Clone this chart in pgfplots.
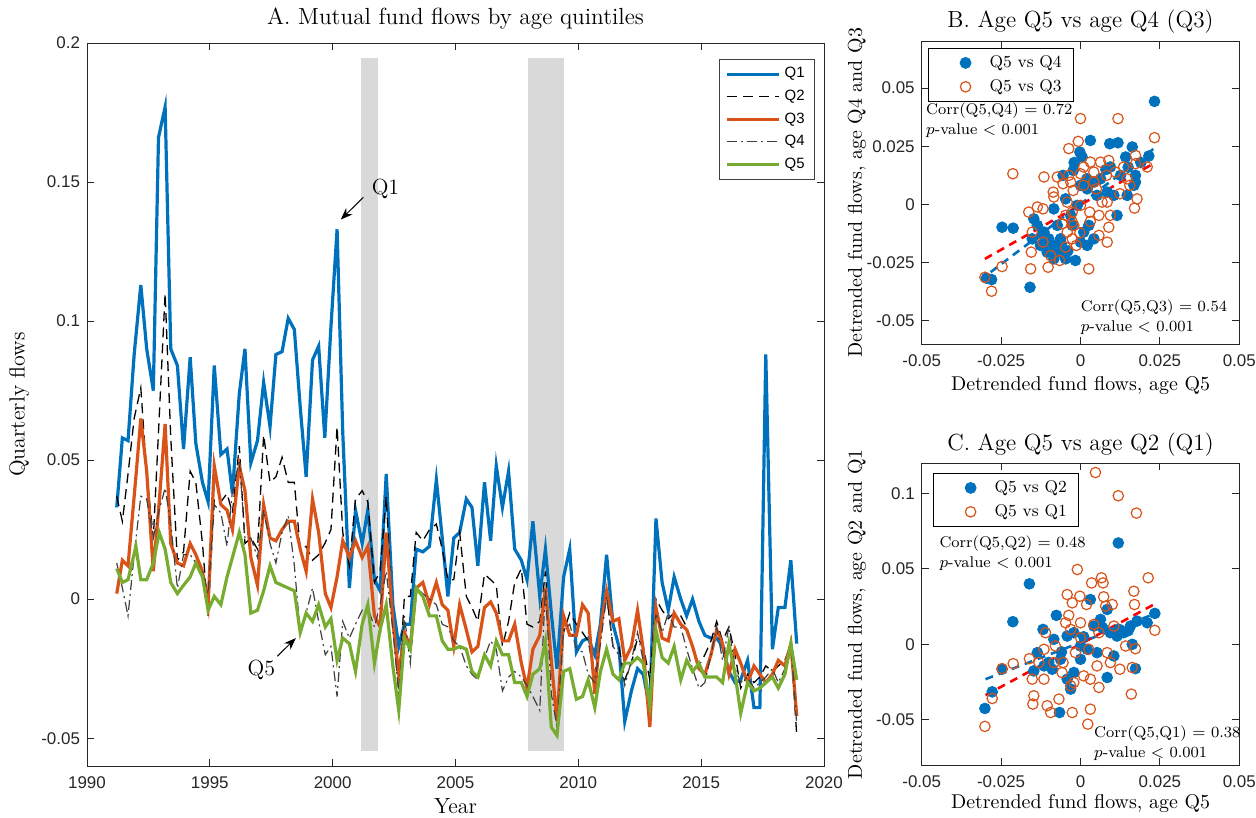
\documentclass[border=0pt]{standalone}
\usepackage{fontspec}
\usepackage{pgfplots}
\usepackage{pgfplotstable}
\pgfplotsset{compat=1.18}
\usetikzlibrary{arrows.meta}
\newfontfamily\tickfont{Liberation Sans}

\definecolor{mblue}{HTML}{0072BD}
\definecolor{morange}{HTML}{D95319}
\definecolor{mgreen}{HTML}{77AC30}
\definecolor{bandgray}{HTML}{D9D9D9}
\definecolor{axgray}{HTML}{262626}

% quarterly flows
\pgfplotstableread{
t v
1991.21 0.033
1991.44 0.058
1991.67 0.057
1991.92 0.088
1992.19 0.113
1992.43 0.090
1992.70 0.075
1992.91 0.166
1993.18 0.177
1993.41 0.090
1993.68 0.084
1993.93 0.054
1994.20 0.087
1994.43 0.056
1994.70 0.042
1994.93 0.035
1995.18 0.084
1995.45 0.052
1995.70 0.054
1995.92 0.038
1996.20 0.074
1996.43 0.090
1996.67 0.049
1996.94 0.057
1997.19 0.078
1997.45 0.062
1997.69 0.088
1997.94 0.089
1998.19 0.101
1998.44 0.097
1998.68 0.069
1998.92 0.044
1999.18 0.086
1999.43 0.091
1999.68 0.058
1999.93 0.098
2000.18 0.133
2000.41 0.060
2000.68 0.004
2000.93 0.032
2001.20 0.020
2001.43 0.032
2001.70 0.007
2001.93 0.003
2002.18 0.045
2002.45 -0.002
2002.69 -0.017
2002.92 -0.009
2003.16 -0.009
2003.40 0.018
2003.67 0.017
2003.94 0.019
2004.22 0.043
2004.46 0.022
2004.69 0.001
2004.93 0.022
2005.17 0.024
2005.44 0.036
2005.67 0.033
2005.91 0.012
2006.18 0.042
2006.43 0.021
2006.66 0.048
2006.91 0.033
2007.16 0.046
2007.41 0.018
2007.68 0.014
2007.91 0.007
2008.15 0.028
2008.43 0.001
2008.66 0.018
2008.90 -0.005
2009.13 -0.025
2009.40 0.008
2009.65 0.018
2009.92 -0.019
2010.17 -0.015
2010.40 -0.014
2010.67 -0.020
2010.90 -0.009
2011.15 0.016
2011.41 -0.009
2011.65 -0.017
2011.89 -0.044
2012.16 -0.033
2012.41 -0.025
2012.64 -0.027
2012.91 -0.039
2013.16 0.029
2013.41 0.006
2013.66 -0.004
2013.90 0.008
2014.17 0.000
2014.41 -0.006
2014.65 0.000
2014.91 -0.008
2015.15 -0.013
2015.40 -0.014
2015.63 -0.014
2015.87 -0.017
2016.13 -0.026
2016.38 -0.030
2016.61 -0.029
2016.89 -0.022
2017.15 -0.039
2017.39 -0.039
2017.63 0.088
2017.90 -0.018
2018.14 -0.003
2018.41 -0.003
2018.65 0.014
2018.89 -0.016
}\qone

\pgfplotstableread{
t v
1991.21 0.037
1991.44 0.028
1991.67 0.045
1991.92 0.065
1992.19 0.076
1992.43 0.045
1992.70 0.022
1992.91 0.060
1993.18 0.110
1993.41 0.058
1993.68 0.014
1993.93 0.017
1994.20 0.046
1994.43 0.042
1994.70 0.020
1994.93 -0.006
1995.18 0.036
1995.45 0.035
1995.70 0.038
1995.92 0.031
1996.20 0.055
1996.43 0.020
1996.67 0.022
1996.94 0.018
1997.19 0.059
1997.45 0.042
1997.69 0.044
1997.94 0.051
1998.19 0.042
1998.44 0.042
1998.68 0.018
1998.92 0.019
1999.18 0.014
1999.43 0.016
1999.68 0.020
1999.93 0.025
2000.18 0.062
2000.41 0.024
2000.68 0.012
2000.93 0.036
2001.20 0.039
2001.43 0.035
2001.70 0.006
2001.93 0.010
2002.18 0.037
2002.45 -0.009
2002.69 -0.033
2002.92 0.001
2003.16 0.001
2003.40 0.024
2003.67 0.021
2003.94 0.025
2004.22 0.027
2004.46 0.018
2004.69 0.007
2004.93 0.007
2005.17 0.024
2005.44 0.001
2005.67 -0.003
2005.91 -0.008
2006.18 0.009
2006.43 0.007
2006.66 0.005
2006.91 -0.017
2007.16 -0.008
2007.41 0.006
2007.68 0.011
2007.91 -0.009
2008.15 -0.010
2008.43 -0.008
2008.66 0.010
2008.90 -0.023
2009.13 -0.047
2009.40 -0.012
2009.65 -0.005
2009.92 -0.009
2010.17 -0.012
2010.40 -0.015
2010.67 -0.028
2010.90 -0.010
2011.15 0.002
2011.41 -0.017
2011.65 -0.017
2011.89 -0.029
2012.16 -0.023
2012.41 -0.014
2012.64 -0.017
2012.91 -0.029
2013.16 0.000
2013.41 -0.004
2013.66 -0.007
2013.90 -0.005
2014.17 -0.006
2014.41 -0.010
2014.65 -0.017
2014.91 -0.024
2015.15 -0.020
2015.40 -0.015
2015.63 -0.008
2015.87 -0.015
2016.13 -0.010
2016.38 -0.020
2016.61 -0.032
2016.89 -0.027
2017.15 -0.030
2017.39 -0.028
2017.63 -0.024
2017.90 -0.026
2018.14 -0.024
2018.41 -0.022
2018.65 -0.016
2018.89 -0.049
}\qtwo

\pgfplotstableread{
t v
1991.21 0.002
1991.44 0.014
1991.67 0.012
1991.99 0.044
1992.19 0.065
1992.43 0.046
1992.70 0.010
1992.94 0.035
1993.18 0.063
1993.41 0.020
1993.68 0.013
1993.93 0.012
1994.20 0.020
1994.43 0.016
1994.70 0.010
1994.93 -0.002
1995.18 0.048
1995.45 0.034
1995.70 0.032
1995.92 0.025
1996.20 0.048
1996.43 0.039
1996.67 0.015
1996.94 0.005
1997.19 0.034
1997.45 0.022
1997.69 0.021
1997.94 0.025
1998.19 0.028
1998.44 0.028
1998.68 0.018
1998.92 0.010
1999.18 0.036
1999.43 0.024
1999.70 0.002
1999.93 -0.003
2000.18 0.008
2000.41 0.021
2000.68 0.015
2000.93 0.021
2001.20 0.015
2001.43 0.019
2001.70 -0.006
2001.93 -0.010
2002.18 0.024
2002.45 -0.008
2002.69 -0.027
2002.92 -0.012
2003.16 -0.017
2003.40 0.004
2003.67 0.006
2003.94 -0.002
2004.22 0.006
2004.46 -0.002
2004.69 -0.004
2004.93 -0.017
2005.17 -0.002
2005.44 -0.011
2005.67 -0.019
2005.91 -0.017
2006.18 -0.003
2006.43 -0.001
2006.66 -0.005
2006.91 -0.015
2007.16 -0.015
2007.41 -0.009
2007.68 -0.023
2007.91 -0.032
2008.15 -0.018
2008.43 -0.013
2008.66 0.004
2008.90 -0.022
2009.13 -0.044
2009.40 -0.006
2009.65 -0.013
2009.92 -0.013
2010.17 -0.002
2010.40 -0.005
2010.67 -0.034
2010.90 -0.011
2011.15 0.003
2011.41 -0.008
2011.65 -0.007
2011.89 -0.022
2012.16 -0.017
2012.41 -0.004
2012.64 -0.018
2012.91 -0.046
2013.16 -0.003
2013.41 -0.014
2013.66 -0.015
2013.90 -0.005
2014.17 -0.009
2014.41 -0.011
2014.65 -0.017
2014.91 -0.025
2015.15 -0.027
2015.40 -0.020
2015.63 -0.011
2015.87 -0.016
2016.13 -0.027
2016.38 -0.018
2016.61 -0.023
2016.89 -0.030
2017.15 -0.024
2017.39 -0.027
2017.63 -0.030
2017.90 -0.027
2018.14 -0.022
2018.41 -0.024
2018.65 -0.016
2018.89 -0.042
}\qthree

\pgfplotstableread{
t v
1991.21 0.013
1991.44 0.004
1991.67 -0.006
1991.92 0.016
1992.19 0.037
1992.43 0.036
1992.70 0.022
1992.94 0.032
1993.18 0.040
1993.41 0.027
1993.68 0.004
1993.93 0.016
1994.20 0.016
1994.43 0.013
1994.70 0.010
1994.93 0.002
1995.18 0.034
1995.45 0.031
1995.70 0.019
1995.92 0.039
1996.20 0.050
1996.43 0.022
1996.67 0.022
1996.94 0.015
1997.19 0.032
1997.45 0.020
1997.69 0.013
1997.94 0.024
1998.19 0.030
1998.44 0.012
1998.68 -0.012
1998.92 -0.005
1999.18 0.004
1999.43 -0.008
1999.70 -0.020
1999.93 -0.017
2000.18 -0.035
2000.41 -0.008
2000.68 -0.014
2000.93 -0.009
2001.20 -0.004
2001.43 -0.003
2001.70 -0.010
2001.93 -0.002
2002.18 0.010
2002.45 -0.011
2002.69 -0.034
2002.92 -0.006
2003.16 -0.023
2003.40 0.004
2003.67 0.002
2003.94 0.000
2004.22 -0.002
2004.46 -0.009
2004.69 -0.010
2004.93 -0.015
2005.17 -0.017
2005.44 -0.024
2005.67 -0.027
2005.91 -0.029
2006.18 -0.021
2006.43 -0.015
2006.66 -0.018
2006.91 -0.033
2007.16 -0.028
2007.41 -0.026
2007.68 -0.028
2007.91 -0.031
2008.15 -0.035
2008.43 -0.040
2008.66 0.004
2008.90 -0.034
2009.13 -0.046
2009.40 -0.011
2009.65 -0.009
2009.92 -0.018
2010.17 -0.019
2010.40 -0.027
2010.67 -0.030
2010.90 -0.016
2011.15 0.001
2011.41 -0.017
2011.65 -0.020
2011.89 -0.031
2012.16 -0.022
2012.41 -0.012
2012.64 -0.022
2012.91 -0.035
2013.16 -0.005
2013.41 -0.012
2013.66 -0.005
2013.90 -0.010
2014.17 -0.010
2014.41 -0.018
2014.65 -0.025
2014.91 -0.032
2015.15 -0.030
2015.40 -0.020
2015.63 -0.010
2015.87 -0.022
2016.13 -0.010
2016.38 -0.025
2016.61 -0.030
2016.89 -0.028
2017.15 -0.032
2017.39 -0.030
2017.63 -0.028
2017.90 -0.025
2018.14 -0.030
2018.41 -0.025
2018.65 -0.016
2018.89 -0.045
}\qfour

\pgfplotstableread{
t v
1991.21 0.011
1991.44 0.006
1991.67 0.007
1991.99 0.019
1992.19 0.007
1992.43 0.007
1992.70 0.013
1992.94 0.024
1993.18 0.018
1993.41 0.006
1993.68 0.002
1993.93 0.005
1994.20 0.008
1994.43 0.013
1994.70 0.008
1994.93 -0.004
1995.18 0.001
1995.45 -0.002
1995.70 0.008
1995.92 0.015
1996.20 0.024
1996.43 0.016
1996.67 -0.005
1996.94 -0.004
1997.19 0.003
1997.45 0.012
1997.69 0.006
1997.94 0.005
1998.19 0.004
1998.44 0.003
1998.68 -0.012
1998.92 -0.005
1999.18 -0.008
1999.43 -0.002
1999.70 -0.010
1999.93 -0.007
2000.18 -0.022
2000.41 -0.014
2000.68 -0.016
2000.93 -0.026
2001.20 -0.009
2001.43 -0.002
2001.70 -0.023
2001.93 -0.011
2002.18 -0.002
2002.45 -0.024
2002.69 -0.040
2002.92 -0.014
2003.16 -0.018
2003.40 0.004
2003.67 0.001
2003.94 -0.006
2004.22 -0.006
2004.46 -0.015
2004.69 -0.018
2004.93 -0.018
2005.17 -0.017
2005.44 -0.018
2005.67 -0.026
2005.91 -0.028
2006.18 -0.020
2006.43 -0.024
2006.66 -0.015
2006.91 -0.020
2007.16 -0.020
2007.41 -0.030
2007.68 -0.030
2007.91 -0.035
2008.15 -0.027
2008.43 -0.025
2008.66 -0.015
2008.90 -0.046
2009.13 -0.049
2009.40 -0.026
2009.65 -0.025
2009.92 -0.036
2010.17 -0.035
2010.40 -0.029
2010.67 -0.039
2010.90 -0.026
2011.15 -0.018
2011.41 -0.027
2011.65 -0.029
2011.89 -0.023
2012.16 -0.023
2012.41 -0.021
2012.64 -0.023
2012.91 -0.038
2013.16 -0.011
2013.41 -0.021
2013.66 -0.023
2013.90 -0.017
2014.17 -0.029
2014.41 -0.022
2014.65 -0.026
2014.91 -0.023
2015.15 -0.028
2015.40 -0.028
2015.63 -0.028
2015.87 -0.030
2016.13 -0.016
2016.38 -0.027
2016.61 -0.041
2016.89 -0.030
2017.15 -0.033
2017.39 -0.032
2017.63 -0.030
2017.90 -0.028
2018.14 -0.032
2018.41 -0.027
2018.65 -0.016
2018.89 -0.029
}\qfive

% detrended flows, panel B
\pgfplotstableread{
x y
0.0233 0.0443
0.0031 0.0275
0.0092 0.0261
0.0118 0.0265
0.0163 0.0247
0.0142 0.0204
0.0215 0.0208
-0.0002 0.0225
0.0005 0.0204
-0.0023 0.0146
-0.0055 0.0125
0.0094 0.0161
0.0173 0.0125
0.0173 0.0096
0.0168 0.0082
0.0084 0.0053
0.0105 0.0039
0.0115 -0.0047
0.0052 0.0039
0.0000 0.0082
0.0021 0.0067
-0.0084 -0.0019
-0.0147 -0.0062
-0.0136 -0.0090
-0.0115 -0.0119
-0.0100 -0.0148
-0.0084 -0.0176
-0.0063 -0.0205
-0.0047 -0.0234
-0.0016 -0.0241
-0.0084 -0.0234
-0.0126 -0.0176
-0.0152 -0.0148
-0.0247 -0.0098
-0.0212 -0.0102
-0.0159 -0.0356
-0.0296 -0.0317
-0.0280 -0.0323
0.0026 -0.0090
0.0042 -0.0148
0.0010 -0.0119
-0.0031 -0.0047
-0.0047 0.0024
-0.0010 -0.0004
0.0000 -0.0162
0.0021 -0.0176
0.0042 0.0096
0.0063 0.0110
0.0126 0.0125
0.0147 0.0039
-0.0105 -0.0205
-0.0063 -0.0148
-0.0026 -0.0090
-0.0073 -0.0090
-0.0110 -0.0160
-0.0090 -0.0200
-0.0060 -0.0170
-0.0120 -0.0130
-0.0040 -0.0200
0.0020 0.0110
0.0080 0.0150
0.0150 0.0160
0.0190 0.0180
-0.0020 0.0180
}\bfour

\pgfplotstableread{
x y
-0.0301 -0.0313
-0.0280 -0.0373
-0.0247 -0.0267
-0.0213 0.0132
-0.0155 -0.0205
-0.0157 -0.0277
-0.0152 -0.0119
-0.0163 -0.0033
-0.0136 -0.0011
-0.0115 0.0118
-0.0118 -0.0019
-0.0118 -0.0162
-0.0094 -0.0220
-0.0102 -0.0270
-0.0066 -0.0241
-0.0073 0.0118
-0.0086 0.0053
-0.0084 0.0032
-0.0055 0.0089
-0.0037 0.0240
-0.0007 0.0271
0.0000 0.0369
-0.0037 0.0125
-0.0031 0.0096
-0.0023 0.0060
-0.0042 0.0010
-0.0026 -0.0033
-0.0047 -0.0047
-0.0058 -0.0083
-0.0026 -0.0076
-0.0021 -0.0090
-0.0042 -0.0119
-0.0026 -0.0148
-0.0013 -0.0176
-0.0047 -0.0184
-0.0002 -0.0122
0.0000 0.0132
0.0010 0.0161
0.0031 0.0182
0.0042 0.0139
0.0010 0.0082
0.0042 0.0096
0.0050 0.0067
0.0000 -0.0004
0.0029 -0.0033
0.0031 -0.0073
0.0058 -0.0047
0.0068 0.0010
0.0063 0.0182
0.0089 0.0189
0.0082 0.0125
0.0084 0.0010
0.0094 -0.0047
0.0089 -0.0098
0.0084 -0.0162
0.0058 -0.0133
0.0026 -0.0277
0.0118 0.0369
0.0110 0.0139
0.0124 0.0046
0.0136 0.0161
0.0147 0.0110
0.0173 0.0211
0.0173 0.0175
0.0178 0.0024
0.0170 -0.0016
0.0155 0.0082
0.0210 0.0161
0.0233 0.0287
}\bthree

% detrended flows, panel C
\pgfplotstableread{
x y
-0.0301 -0.0425
-0.0278 -0.0315
-0.0247 -0.0165
-0.0213 0.0150
-0.0161 0.0401
0.0119 0.0672
-0.0066 -0.0452
-0.0076 0.0192
-0.0118 0.0099
-0.0136 -0.0055
-0.0147 -0.0176
-0.0115 -0.0143
-0.0089 -0.0165
-0.0084 0.0033
-0.0042 0.0055
-0.0021 0.0077
0.0000 -0.0011
0.0021 -0.0033
0.0042 0.0121
0.0063 0.0165
0.0084 0.0231
0.0094 0.0077
0.0115 0.0055
0.0136 0.0077
0.0157 0.0121
0.0178 0.0154
0.0210 0.0143
0.0234 0.0205
0.0173 -0.0161
0.0163 0.0000
0.0084 -0.0220
-0.0031 -0.0297
0.0031 0.0297
0.0000 -0.0099
-0.0063 -0.0099
-0.0042 -0.0231
-0.0021 -0.0187
0.0052 -0.0055
0.0105 -0.0077
-0.0100 -0.0120
-0.0060 -0.0050
0.0010 0.0050
0.0070 0.0110
0.0120 0.0100
0.0150 0.0090
}\ctwo

\pgfplotstableread{
x y
-0.0301 -0.0544
-0.0278 -0.0359
-0.0247 -0.0161
-0.0212 -0.0128
-0.0161 -0.0095
-0.0152 -0.0231
-0.0147 -0.0341
-0.0150 -0.0396
-0.0131 -0.0121
-0.0115 -0.0231
-0.0115 -0.0033
-0.0110 0.0077
-0.0105 -0.0407
-0.0094 -0.0452
-0.0084 -0.0121
-0.0079 -0.0011
-0.0068 -0.0363
-0.0058 -0.0187
-0.0055 -0.0121
-0.0042 0.0330
-0.0037 0.0192
-0.0031 0.0099
-0.0026 0.0275
-0.0026 -0.0452
-0.0031 -0.0275
-0.0021 -0.0253
-0.0010 0.0496
-0.0002 0.0319
0.0000 0.0143
0.0010 -0.0209
0.0019 0.0264
0.0023 -0.0529
0.0031 -0.0430
0.0031 -0.0231
0.0035 0.0407
0.0042 0.0132
0.0047 0.1139
0.0052 -0.0143
0.0058 -0.0286
0.0066 0.0441
0.0071 0.0407
0.0073 0.0315
0.0079 0.0253
0.0084 -0.0055
0.0094 -0.0121
0.0100 0.0264
0.0119 0.0985
0.0124 -0.0165
0.0142 -0.0011
0.0163 -0.0154
0.0160 -0.0330
0.0168 0.0352
0.0170 0.0264
0.0173 -0.0029
0.0176 0.0870
0.0213 0.0441
0.0234 0.0093
-0.0047 0.0143
0.0000 0.0044
0.0026 -0.0033
-0.0016 -0.0055
0.0058 0.0077
0.0105 0.0121
}\cone

\tikzset{ctext/.style={anchor=west, font=\fontsize{7.8}{9}\selectfont, inner sep=0pt}}

\pgfplotsset{
  mstyle/.style={
    scale only axis,
    scaled ticks=false,
    every axis title shift=0pt,
    axis line style={draw=axgray, line width=0.5bp},
    tick style={draw=axgray, line width=0.5bp},
    major tick length=3.5bp,
    ticklabel style={font=\tickfont\fontsize{8.5}{10}\selectfont, text=axgray},
    xticklabel style={yshift=-2bp},
    title style={font=\fontsize{11.7}{13}\selectfont, anchor=center},
  },
  scat/.style={
    mstyle,
    width=158.8bp,
    xmin=-0.05, xmax=0.05,
    xtick={-0.05,-0.025,0,0.025,0.05},
    xticklabels={-0.05,-0.025,0,0.025,0.05},
    label style={font=\fontsize{10}{12}\selectfont},
    xlabel={Detrended fund flows, age Q5},
    legend style={font=\fontsize{8.5}{10}\selectfont, draw=black, line width=0.5bp,
      inner xsep=4bp, inner ysep=1.5bp, row sep=0.5bp, cells={anchor=west}},
  },
  dotlegend/.style={
    legend image code/.code={\path[draw=none, fill=none] (0bp,-2bp) rectangle (24.5bp,2bp);
      \draw[##1, only marks] plot coordinates {(14.5bp,0bp)};}},
  bdot/.style={only marks, mark=*, mark size=2.7bp, mark options={draw=mblue, fill=mblue}, dotlegend},
  odot/.style={only marks, mark=o, mark size=2.6bp, mark options={draw=morange, fill=white, line width=0.6bp}, dotlegend},
}

\begin{document}
\begin{tikzpicture}
\useasboundingbox (0bp,0bp) rectangle (628bp,-409bp);

% Panel A
\begin{axis}[
  mstyle,
  at={(43.5bp,-383bp)}, anchor=south west,
  width=368.5bp, height=361.5bp,
  xmin=1990, xmax=2020, ymin=-0.06, ymax=0.2,
  xtick={1990,1995,2000,2005,2010,2015,2020},
  xticklabels={1990,1995,2000,2005,2010,2015,2020},
  ytick={-0.05,0,0.05,0.1,0.15,0.2},
  yticklabels={-0.05,0,0.05,0.1,0.15,0.2},
  title={A. Mutual fund flows by age quintiles},
  title style={at={(axis description cs:0.5,1)}, yshift=12bp},
  label style={font=\fontsize{11}{13}\selectfont},
  xlabel={Year}, ylabel={Quarterly flows},
  every axis x label/.append style={at={(axis description cs:0.5,-0.055)}, anchor=center},
  every axis y label/.append style={at={(axis description cs:-0.092,0.5)}, anchor=center},
  legend style={at={(0.988,0.978)}, anchor=north east, draw=black!75, line width=0.5bp,
    font=\tickfont\fontsize{7.5}{9}\selectfont, inner xsep=3bp, inner ysep=2bp,
    row sep=0.6bp, cells={anchor=west}},
  legend image code/.code={\draw[#1] (0bp,0bp) -- (26bp,0bp);},
]
\fill[bandgray] (axis cs:2001.17,-0.0547) rectangle (axis cs:2001.83,0.1946);
\fill[bandgray] (axis cs:2007.94,-0.0547) rectangle (axis cs:2009.42,0.1946);

\addplot[mblue, line width=1.6bp] table[x=t, y=v] {\qone};
\addplot[black, line width=0.65bp, dash pattern=on 5bp off 3bp] table[x=t, y=v] {\qtwo};
\addplot[morange, line width=1.6bp] table[x=t, y=v] {\qthree};
\addplot[black!75, line width=0.6bp, dash pattern=on 5bp off 2bp on 1bp off 2bp] table[x=t, y=v] {\qfour};
\addplot[mgreen, line width=1.6bp] table[x=t, y=v] {\qfive};
\legend{Q1,Q2,Q3,Q4,Q5}

\draw[-{Stealth[length=6bp,width=4.5bp]}, line width=0.5bp] (axis cs:2001.25,0.1445) -- (axis cs:2000.33,0.1365);
\node[font=\fontsize{11}{13}\selectfont] at (axis cs:2002.15,0.1475) {Q1};
\draw[-{Stealth[length=6bp,width=4.5bp]}, line width=0.5bp] (axis cs:1997.75,-0.0205) -- (axis cs:1998.5,-0.0140);
\node[font=\fontsize{11}{13}\selectfont] at (axis cs:1997.1,-0.0255) {Q5};
\end{axis}

% Panel B
\begin{axis}[
  scat,
  at={(460.85bp,-172bp)}, anchor=south west,
  height=151.2bp,
  ymin=-0.06, ymax=0.07,
  ytick={-0.05,-0.025,0,0.025,0.05},
  yticklabels={-0.05,-0.025,0,0.025,0.05},
  title={B. Age Q5 vs age Q4 (Q3)},
  title style={at={(axis description cs:0.5,1)}, yshift=9.8bp},
  ylabel={Detrended fund flows, age Q4 and Q3},
  every axis x label/.append style={at={(axis description cs:0.5,-0.136)}, anchor=center},
  every axis y label/.append style={at={(axis description cs:-0.204,0.5)}, anchor=center},
  legend style={at={(0.02,0.979)}, anchor=north west},
]
\addplot[bdot] table {\bfour};
\addplot[odot] table {\bthree};
\addplot[mblue, line width=1.3bp, dash pattern=on 4bp off 3bp, forget plot] coordinates {(-0.0283,-0.0291) (0.0231,0.0240)};
\addplot[red, line width=1.3bp, dash pattern=on 4bp off 3bp, forget plot] coordinates {(-0.0301,-0.0234) (0.0220,0.0168)};
\legend{Q5 vs Q4, Q5 vs Q3}
\node[ctext] at (axis cs:-0.0487,0.0404) {Corr(Q5,Q4) $=$ 0.72};
\node[ctext] at (axis cs:-0.0487,0.0318) {$p$-value $<$ 0.001};
\node[ctext] at (axis cs:0.0000,-0.0442) {Corr(Q5,Q3) $=$ 0.54};
\node[ctext] at (axis cs:0.0000,-0.0528) {$p$-value $<$ 0.001};
\end{axis}

% Panel C
\begin{axis}[
  scat,
  at={(460.85bp,-382.5bp)}, anchor=south west,
  height=150.85bp,
  ymin=-0.08, ymax=0.12,
  ytick={-0.05,0,0.05,0.1},
  yticklabels={-0.05,0,0.05,0.1},
  title={C. Age Q5 vs age Q2 (Q1)},
  title style={at={(axis description cs:0.5,1)}, yshift=9.2bp},
  ylabel={Detrended fund flows, age Q2 and Q1},
  every axis x label/.append style={at={(axis description cs:0.5,-0.126)}, anchor=center},
  every axis y label/.append style={at={(axis description cs:-0.204,0.5)}, anchor=center},
  legend style={at={(0.036,0.968)}, anchor=north west},
]
\addplot[bdot] table {\ctwo};
\addplot[odot] table {\cone};
\addplot[mblue, line width=1.3bp, dash pattern=on 4bp off 3bp, forget plot] coordinates {(-0.0299,-0.0231) (0.0231,0.0200)};
\addplot[red, line width=1.3bp, dash pattern=on 4bp off 3bp, forget plot] coordinates {(-0.0299,-0.0337) (0.0231,0.0264)};
\legend{Q5 vs Q2, Q5 vs Q1}
\node[ctext] at (axis cs:-0.0445,0.0668) {Corr(Q5,Q2) $=$ 0.48};
\node[ctext] at (axis cs:-0.0445,0.0536) {$p$-value $<$ 0.001};
\node[ctext] at (axis cs:0.0042,-0.0589) {Corr(Q5,Q1) $=$ 0.38};
\node[ctext] at (axis cs:0.0042,-0.0728) {$p$-value $<$ 0.001};
\end{axis}
\end{tikzpicture}
\end{document}
